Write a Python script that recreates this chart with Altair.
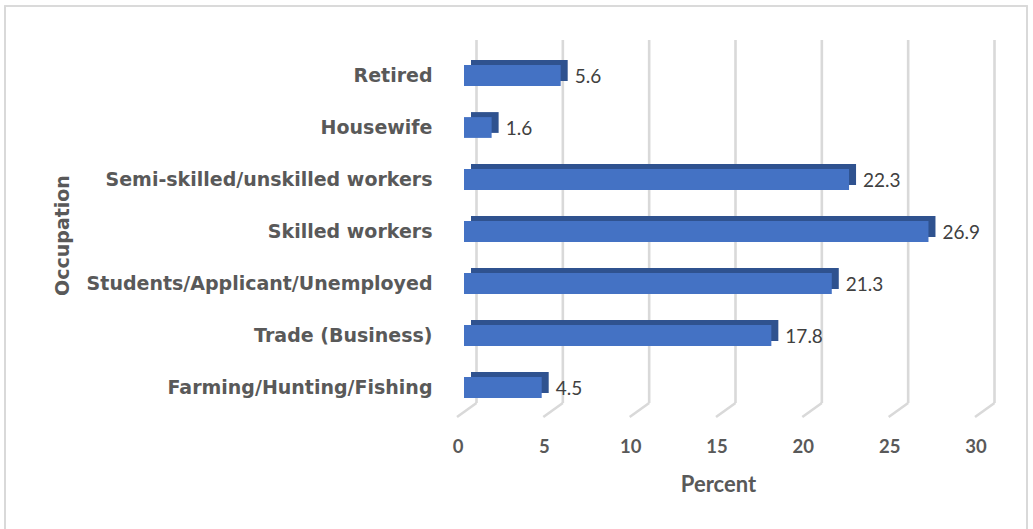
import altair as alt
import pandas as pd

categories = ["Retired", "Housewife", "Semi-skilled/unskilled workers", "Skilled workers",
              "Students/Applicant/Unemployed", "Trade (Business)", "Farming/Hunting/Fishing"]
percent = [5.6, 1.6, 22.3, 26.9, 21.3, 17.8, 4.5]
ticks = [0, 5, 10, 15, 20, 25, 30]

df = pd.DataFrame({"Occupation": categories, "Percent": percent})
grid = pd.DataFrame({"v": ticks})

W, H = 518, 377
LEFT, TOP = 464, 40

xscale = alt.Scale(domain=[0, 30], nice=False, zero=True)
yscale = alt.Scale(domain=categories, range=[9.5, 373.5], paddingInner=0.6, paddingOuter=0.3)

xaxis = alt.Axis(values=ticks, grid=False, domain=False, ticks=False, tickSize=0, labelFlush=False,
                 labelFont="Lato", labelFontWeight="bold", labelFontSize=18.5, labelColor="#595959",
                 labelPadding=29, labelBaseline="middle", labelOffset=-6.5,
                 title="Percent", titleFont="Lato", titleFontWeight="bold", titleFontSize=22,
                 titleColor="#595959", titleX=254, titleY=67, titleBaseline="middle", titleAlign="center")
yaxis = alt.Axis(grid=False, domain=False, ticks=False, tickSize=0,
                 labelFont="DejaVu Sans", labelFontWeight="bold", labelFontSize=19, labelColor="#595959",
                 labelPadding=32, labelLimit=500,
                 title="Occupation", titleFont="DejaVu Sans", titleFontWeight="bold", titleFontSize=19,
                 titleColor="#595959", titleX=-402, titleY=195, titleAngle=270,
                 titleAlign="center", titleBaseline="middle")

grid_v = alt.Chart(grid).mark_rule(color="#d9d9d9", strokeWidth=2.6, xOffset=12.5, x2Offset=12.5).encode(
    x=alt.X("v:Q", scale=xscale, axis=xaxis),
    y=alt.value(0), y2=alt.value(363))
grid_d = alt.Chart(grid).mark_rule(color="#d9d9d9", strokeWidth=2.6, xOffset=12.5, x2Offset=-7).encode(
    x=alt.X("v:Q", scale=xscale), x2="v:Q",
    y=alt.value(363), y2=alt.value(377))

back = alt.Chart(df).mark_bar(color="#2f528f", xOffset=7, x2Offset=3.5, yOffset=-5, y2Offset=-5).encode(
    x=alt.X("Percent:Q", scale=xscale),
    y=alt.Y("Occupation:N", scale=yscale, sort=categories, axis=yaxis))
front = alt.Chart(df).mark_bar(color="#4472c4").encode(
    x=alt.X("Percent:Q", scale=xscale),
    y=alt.Y("Occupation:N", scale=yscale, sort=categories))
labels = alt.Chart(df).mark_text(align="left", baseline="middle", dx=14, dy=1, font="Lato",
                                 fontSize=19, color="#404040").encode(
    x=alt.X("Percent:Q", scale=xscale),
    y=alt.Y("Occupation:N", scale=yscale, sort=categories),
    text=alt.Text("Percent:Q", format=".1f"))

border = alt.Chart(grid).mark_rect(fill=None, stroke="#d9d9d9", strokeWidth=1.2).encode(
    x=alt.value(5 - LEFT), x2=alt.value(1027 - LEFT),
    y=alt.value(6 - TOP), y2=alt.value(540 - TOP))

chart = alt.layer(border, grid_v, grid_d, back, front, labels).properties(
    width=W, height=H,
    autosize="none",
    padding={"left": LEFT, "top": TOP, "right": 1033 - LEFT - W, "bottom": 529 - TOP - H},
).configure(background="white").configure_view(stroke=None)

chart.save("out.html", embed_options={"renderer": "svg", "actions": False})
